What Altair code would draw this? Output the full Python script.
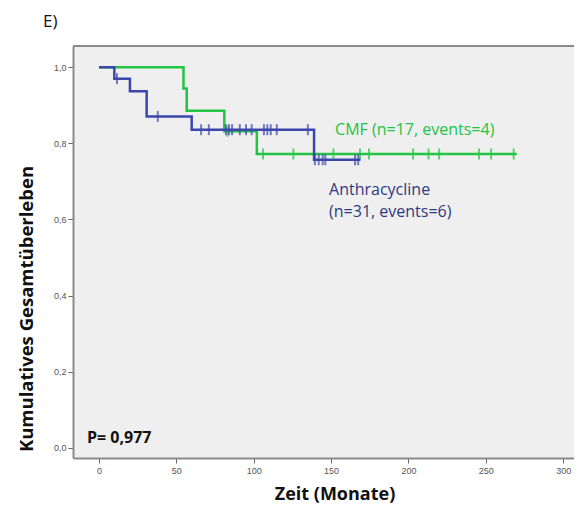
import altair as alt
import pandas as pd

# Kaplan-Meier step data
cmf_time = [0, 54.6, 56.7, 81, 102, 270]
cmf_surv = [1.0, 0.944, 0.886, 0.832, 0.772, 0.772]
cmf_censor = [83, 106, 125.6, 151.5, 168.7, 174.5, 203, 213, 219.8, 245.6, 253.4, 268]

anth_time = [0, 9.9, 20, 30.8, 59.9, 139, 169]
anth_surv = [1.0, 0.970, 0.937, 0.871, 0.836, 0.757, 0.757]
anth_censor = [11.6, 38, 66, 71, 82, 84, 86, 91, 95, 98.7, 106.6, 108.8, 111, 114.9,
               135, 139.5, 142, 144.6, 146.3, 165.5, 167.5]

x_ticks = [0, 50, 100, 150, 200, 250, 300]
y_ticks = [0.0, 0.2, 0.4, 0.6, 0.8, 1.0]

GREEN = "#22c443"
BLUE = "#3c47ad"
NAVY = "#2e3a82"


def surv_at(times, survs, t):
    s = survs[0]
    for tt, ss in zip(times, survs):
        if tt <= t:
            s = ss
    return s


lines = pd.DataFrame(
    [{"t": t, "s": s, "g": "CMF"} for t, s in zip(cmf_time, cmf_surv)]
    + [{"t": t, "s": s, "g": "Anthracycline"} for t, s in zip(anth_time, anth_surv)]
)
cens = pd.DataFrame(
    [{"t": t, "s": surv_at(cmf_time, cmf_surv, t), "g": "CMF"} for t in cmf_censor]
    + [{"t": t, "s": surv_at(anth_time, anth_surv, t), "g": "Anthracycline"} for t in anth_censor]
)

W, H = 501, 412
xs = alt.Scale(domain=[-16.8, 307], nice=False, zero=False)
ys = alt.Scale(domain=[-0.027, 1.056], nice=False, zero=False)
cs = alt.Scale(domain=["CMF", "Anthracycline"], range=[GREEN, BLUE])

xax = alt.Axis(values=x_ticks, title=None, grid=False, tickSize=5, tickColor="#666",
               labelFontSize=9, labelColor="#555", labelFont="Liberation Sans",
               domainColor="#8a8a8a", domainWidth=2, labelPadding=3)
yax = alt.Axis(values=y_ticks, title=None, grid=False, tickSize=5, tickColor="#666",
               labelFontSize=9, labelColor="#555", labelFont="Liberation Sans",
               domainColor="#8a8a8a", domainWidth=2, labelPadding=2,
               labelExpr="replace(format(datum.value, '.1f'), '.', ',')")

base_line = alt.Chart(lines).mark_line(interpolate="step-after", strokeWidth=2.5).encode(
    x=alt.X("t:Q", scale=xs, axis=xax),
    y=alt.Y("s:Q", scale=ys, axis=yax),
    color=alt.Color("g:N", scale=cs, legend=None),
    order=alt.Order("t:Q"),
)
line_cmf = base_line.transform_filter(alt.datum.g == "CMF")
line_anth = base_line.transform_filter(alt.datum.g == "Anthracycline")

base_tick = alt.Chart(cens).mark_tick(orient="vertical", size=11, thickness=2).encode(
    x=alt.X("t:Q", scale=xs),
    y=alt.Y("s:Q", scale=ys),
    color=alt.Color("g:N", scale=cs, legend=None),
)
tick_cmf = base_tick.transform_filter(alt.datum.g == "CMF")
tick_anth = base_tick.transform_filter(alt.datum.g == "Anthracycline")

labels = pd.DataFrame([
    {"t": 152.6, "s": 0.835, "txt": "CMF (n=17, events=4)", "c": GREEN},
    {"t": 148.7, "s": 0.678, "txt": "Anthracycline", "c": NAVY},
    {"t": 148.7, "s": 0.620, "txt": "(n=31, events=6)", "c": NAVY},
])
lab = alt.Chart(labels).mark_text(align="left", baseline="middle", font="Open Sans",
                                  fontSize=16).encode(
    x=alt.X("t:Q", scale=xs), y=alt.Y("s:Q", scale=ys),
    text="txt:N", color=alt.Color("c:N", scale=None),
)

frame_top = alt.Chart(pd.DataFrame({"a": [0]})).mark_rule(color="#8a8a8a", strokeWidth=2).encode(
    x=alt.value(0), x2=alt.value(W), y=alt.value(0))

p_txt = alt.Chart(pd.DataFrame({"txt": ["P= 0,977"]})).mark_text(
    align="left", baseline="middle", font="Open Sans", fontSize=16, fontWeight="bold", color="#111"
).encode(x=alt.value(14), y=alt.value(392), text="txt:N")
e_txt = alt.Chart(pd.DataFrame({"txt": ["E)"]})).mark_text(
    align="left", baseline="middle", font="Open Sans", fontSize=17, color="#111"
).encode(x=alt.value(-30), y=alt.value(-24), text="txt:N")
ytitle = alt.Chart(pd.DataFrame({"txt": ["Kumulatives Gesamtüberleben"]})).mark_text(
    align="center", baseline="middle", font="Open Sans", fontSize=18.5, fontWeight="bold",
    color="#111", angle=270
).encode(x=alt.value(-46), y=alt.value(263), text="txt:N")
xtitle = alt.Chart(pd.DataFrame({"txt": ["Zeit (Monate)"]})).mark_text(
    align="center", baseline="middle", font="Open Sans", fontSize=18, fontWeight="bold",
    color="#111"
).encode(x=alt.value(262), y=alt.value(449), text="txt:N")

chart = alt.layer(
    frame_top, line_cmf, tick_cmf, line_anth, tick_anth, lab, p_txt, e_txt, ytitle, xtitle
).properties(
    width=W, height=H,
    autosize=alt.AutoSizeParams(type="none"),
    padding={"left": 65, "top": 38, "right": 0, "bottom": 48},
    background="white",
).configure_view(fill="#efefef", stroke=None)

chart.save("out.html", embed_options={"renderer": "svg", "actions": False})
